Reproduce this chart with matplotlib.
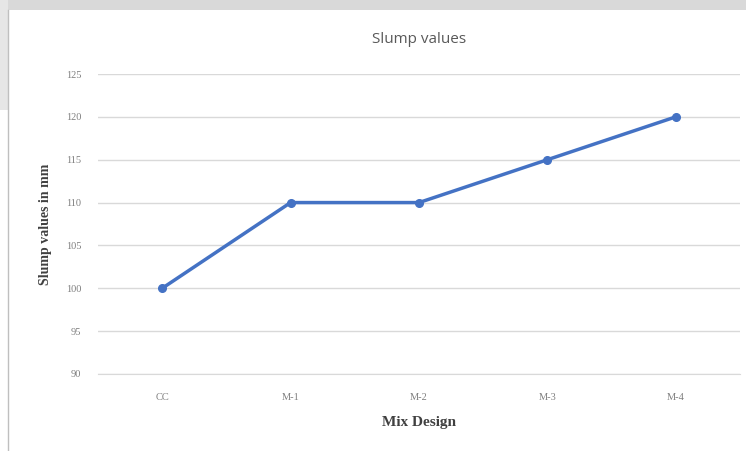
import matplotlib
matplotlib.use("Agg")
import matplotlib.pyplot as plt
from matplotlib.patches import Rectangle

mixes = ["CC", "M-1", "M-2", "M-3", "M-4"]
slump = [100, 110, 110, 115, 120]
yticks = [90, 95, 100, 105, 110, 115, 120, 125]

fig = plt.figure(figsize=(7.46, 4.51), dpi=100)
fig.patch.set_facecolor("white")

# grey strip and frame edge around the chart panel
fig.add_artist(Rectangle((0, 1 - 10 / 451), 1, 10 / 451, transform=fig.transFigure,
                         facecolor="#d9d9d9", edgecolor="none"))
fig.add_artist(Rectangle((0, 1 - 110 / 451), 8 / 746, 110 / 451, transform=fig.transFigure,
                         facecolor="#e6e6e6", edgecolor="none"))
fig.add_artist(plt.Line2D([8 / 746, 8 / 746], [0, 1 - 10 / 451], transform=fig.transFigure,
                          color="#bfbfbf", lw=1))

ax = fig.add_axes([98 / 746, 1 - 374 / 451, 642 / 746, 300 / 451])
x = range(len(mixes))
ax.plot(x, slump, color="#4472C4", lw=2.5, marker="o", markersize=5.5)

ax.set_xlim(-0.5, len(mixes) - 0.5)
ax.set_ylim(90, 125)
ax.set_yticks(yticks)
ax.set_xticks(list(x))
ax.set_xticklabels(mixes)
ax.grid(axis="y", color="#d9d9d9", lw=1)
ax.set_axisbelow(True)
for s in ["top", "right", "left"]:
    ax.spines[s].set_visible(False)
ax.spines["bottom"].set_color("#d9d9d9")
ax.tick_params(axis="y", length=0, labelsize=7.5, labelcolor="#7f7f7f", pad=12)
ax.tick_params(axis="x", length=0, labelsize=7.5, labelcolor="#7f7f7f", pad=14)
for lbl in ax.get_yticklabels() + ax.get_xticklabels():
    lbl.set_family("Liberation Serif")

ax.set_title("Slump values", fontsize=11, color="#595959", family="Open Sans", pad=22)
ax.set_ylabel("Slump values in mm", fontsize=10, fontweight="bold", family="Liberation Serif",
              color="#404040", labelpad=10)
ax.set_xlabel("Mix Design", fontsize=11, fontweight="bold", family="Liberation Serif",
              color="#404040", labelpad=10)

fig.savefig("out.png", dpi=100)
